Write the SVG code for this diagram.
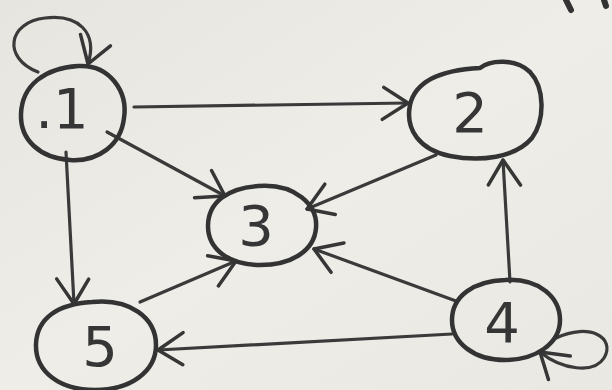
<svg xmlns="http://www.w3.org/2000/svg" width="612" height="390" viewBox="0 0 612 390">
<defs>
<linearGradient id="paper" x1="0" y1="0" x2="1" y2="1">
<stop offset="0" stop-color="#e6e5e0"/>
<stop offset="0.5" stop-color="#eeede8"/>
<stop offset="1" stop-color="#e9e8e3"/>
</linearGradient>
<marker id="ah" markerUnits="userSpaceOnUse" markerWidth="40" markerHeight="40" viewBox="0 0 40 40" refX="36" refY="20" orient="auto">
<path d="M12,4 L36,20 L10,36" fill="none" stroke="#363636" stroke-width="3.5" stroke-linecap="round" stroke-linejoin="round"/>
</marker>
<style>
.node{fill:none;stroke:#333;stroke-width:4.5;stroke-linecap:round;stroke-linejoin:round}
.lbl{font-family:"DejaVu Sans","Liberation Sans",sans-serif;font-size:56px;fill:#363636;text-anchor:middle;font-weight:normal}
.edge{fill:none;stroke:#3a3a3a;stroke-width:3.2;stroke-linecap:round;marker-end:url(#ah)}
</style>
</defs>
<rect width="612" height="390" fill="url(#paper)"/>
<path d="M566,0 L571,10 M604,0 L606,6" fill="none" stroke="#333" stroke-width="6" stroke-linecap="round"/>
<g id="connectors">
<path class="edge" d="M134,107 L408,103"/>
<path class="edge" d="M107,132 L225,196"/>
<path class="edge" d="M436,155 L307,209"/>
<path class="edge" d="M456,301 L314,249"/>
<path class="edge" d="M510,282 L503,160"/>
<path class="edge" d="M66,152 L74,304"/>
<path class="edge" d="M140,302 L236,261"/>
<path class="edge" d="M452,334 L158,350"/>
<path class="edge" d="M38,72 C 2,58 8,22 45,18 C 78,14 98,32 88,64"/>
<path class="edge" d="M556,338 C 590,322 616,338 604,358 C 594,374 562,370 540,352"/>
</g>
<g id="node1">
<path class="node" d="M78,66 C 110,64 128,92 124,118 C 121,145 98,162 70,160 C 40,158 20,140 21,114 C 22,85 45,68 78,66 Z"/>
<text class="lbl" x="62" y="128">.1</text>
</g>
<g id="node2">
<path class="node" d="M480,68 C 490,60 515,58 530,72 C 545,88 545,120 532,138 C 515,158 480,162 450,156 C 420,150 405,130 410,105 C 415,82 440,70 480,68 Z"/>
<text class="lbl" x="470" y="132">2</text>
</g>
<g id="node3">
<path class="node" d="M258,186 C 295,183 318,205 316,228 C 314,252 290,265 260,265 C 230,265 208,250 208,226 C 208,202 228,188 258,186 Z"/>
<text class="lbl" x="256" y="245">3</text>
</g>
<g id="node4">
<path class="node" d="M505,280 C 540,278 560,298 560,320 C 560,344 535,360 505,360 C 474,360 452,343 452,320 C 452,296 474,281 505,280 Z"/>
<text class="lbl" x="502" y="342">4</text>
</g>
<g id="node5">
<path class="node" d="M92,302 C 130,298 156,318 156,345 C 156,372 130,390 95,390 C 60,390 35,372 36,344 C 37,318 58,304 92,302 Z"/>
<text class="lbl" x="100" y="366">5</text>
</g>
</svg>
